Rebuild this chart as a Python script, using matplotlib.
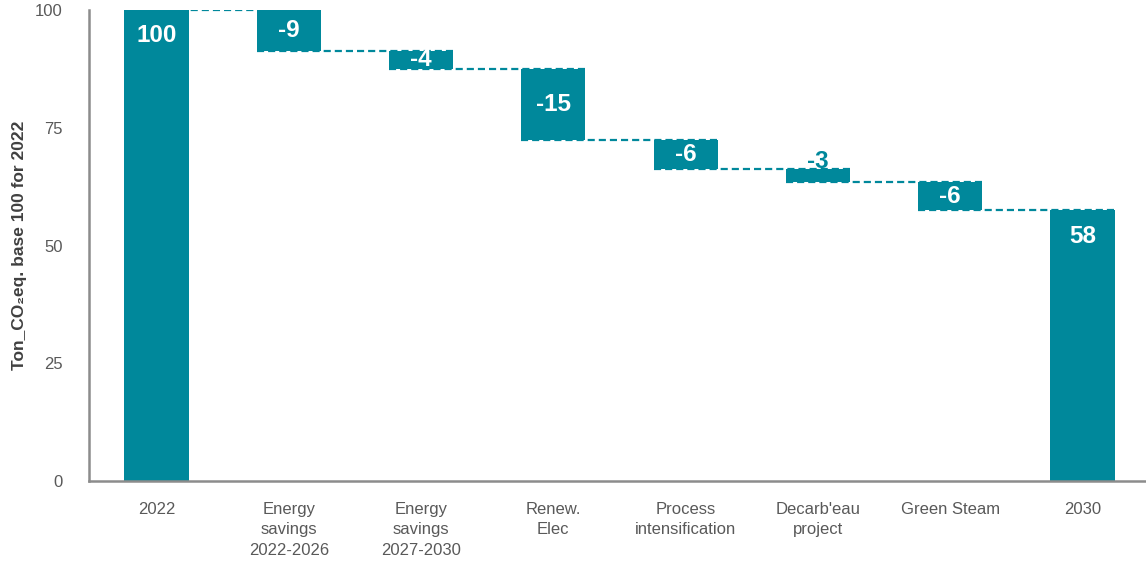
"""Waterfall of CO2 emissions from 2022 baseline to 2030 target."""

import matplotlib.pyplot as plt

plt.rcParams["font.family"] = ["Liberation Sans", "DejaVu Sans"]

TEAL = "#00889B"
GREY_AXIS = "#8C8C8C"
GREY_TEXT = "#595959"

categories = ["2022", "Energy\nsavings\n2022-2026", "Energy\nsavings\n2027-2030",
              "Renew.\nElec", "Process\nintensification", "Decarb'eau\nproject",
              "Green Steam", "2030"]
start_value = 100.0
steps = [-8.6, -3.9, -15.1, -6.1, -2.9, -5.8]

BAR_W = 0.485


def main():
    fig = plt.figure(figsize=(11.46, 5.62), dpi=100)
    ax = fig.add_axes([0.0777, 0.1441, 0.9223, 0.838])

    # running levels for the floating bars
    levels = [start_value]
    for s in steps:
        levels.append(levels[-1] + s)
    end_value = levels[-1]

    bottoms = [0.0] + [levels[i + 1] for i in range(len(steps))] + [0.0]
    heights = [start_value] + [-s for s in steps] + [end_value]
    xs = list(range(len(categories)))

    ax.bar(xs, heights, bottom=bottoms, width=BAR_W, color=TEAL, zorder=2)

    # dashed connectors between consecutive bars
    for i, lvl in enumerate(levels):
        ax.hlines(lvl, i - BAR_W / 2, i + 1 + BAR_W / 2, colors=TEAL,
                  linestyles=(0, (3.2, 1.8)), lw=1.6, zorder=3)

    # value labels
    label_kw = dict(ha="center", va="center", fontsize=17.5, fontweight="bold")
    ax.text(0, start_value - 5.3, f"{start_value:.0f}", color="white", **label_kw)
    ax.text(xs[-1], end_value - 5.6, f"{end_value:.0f}", color="white", **label_kw)
    for i, s in enumerate(steps, start=1):
        top = levels[i - 1]
        if -s >= 3.5:
            ax.text(i, top + s / 2, f"{s:.0f}", color="white", **label_kw)
        else:
            ax.text(i, top + 1.6, f"{s:.0f}", color=TEAL, **label_kw)

    ax.set_xlim(-0.51, len(categories) - 0.52)
    ax.set_ylim(0, 100)
    ax.set_yticks([0, 25, 50, 75, 100])
    ax.set_xticks(xs)
    ax.set_xticklabels(categories, linespacing=1.45)
    ax.tick_params(axis="both", length=0, labelsize=12, colors=GREY_TEXT)
    ax.tick_params(axis="y", pad=19)
    ax.tick_params(axis="x", pad=15)

    for side in ("top", "right"):
        ax.spines[side].set_visible(False)
    for side in ("left", "bottom"):
        ax.spines[side].set_color(GREY_AXIS)
        ax.spines[side].set_linewidth(1.8)

    ax.set_ylabel("Ton_CO\u2082eq. base 100 for 2022", fontsize=12.5,
                  fontweight="bold", color="#404040", va="center")
    ax.yaxis.set_label_coords(-0.066, 0.5)

    fig.savefig("out.png", dpi=100, facecolor="white")
    plt.close(fig)


if __name__ == "__main__":
    main()
